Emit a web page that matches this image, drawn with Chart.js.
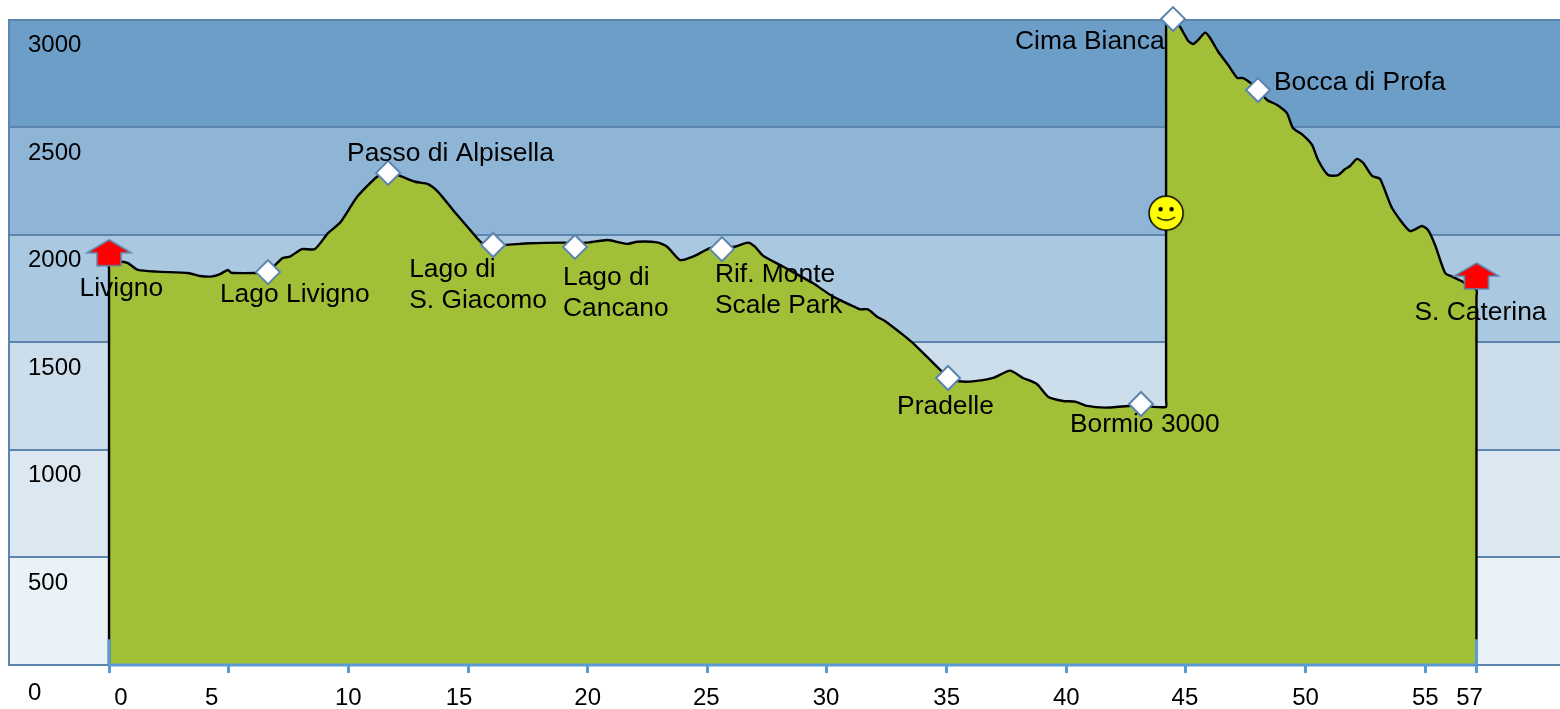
<!DOCTYPE html>
<html>
<head>
<meta charset="utf-8">
<title>Livigno - S. Caterina</title>
<script src="https://cdn.jsdelivr.net/npm/chart.js@4"></script>
<style>
    html, body { margin: 0; padding: 0; background: #fff; }
    canvas { display: block; }
</style>
</head>
<body>
<canvas id="profileChart" width="1560" height="709"></canvas>
<script>
// profile, km and metres
// the extra points on the vertical edges keep the curve from bowing there
const profileKm = [0, 0, 0, 0, 0.54, 0.79, 1.21, 2.0, 3.3, 3.81, 4.31, 4.64, 4.97, 5.1, 6.18, 6.64, 7.02, 7.27, 7.56, 8.06, 8.6, 9.16, 9.66, 10.37, 11.2, 11.66, 12.16, 12.79, 13.33, 13.74, 14.37, 15.09, 15.59, 16.05, 16.55, 17.59, 18.97, 19.47, 19.97, 20.85, 21.65, 22.07, 22.9, 23.32, 23.86, 24.4, 25.11, 25.61, 26.15, 26.7, 26.99, 27.33, 28.04, 29.42, 30.25, 31.25, 31.38, 31.71, 32.09, 32.42, 33.18, 33.68, 34.81, 35.06, 35.44, 35.98, 36.94, 37.65, 38.19, 38.77, 39.24, 39.87, 40.37, 40.87, 41.62, 42.58, 43.12, 43.62, 44.17, 44.17, 44.17, 44.17, 44.46, 44.75, 45.09, 45.3, 45.51, 45.8, 46.01, 46.35, 46.76, 47.14, 47.39, 47.76, 48.01, 48.39, 48.81, 49.22, 49.47, 49.89, 50.27, 50.52, 50.94, 51.36, 51.65, 51.86, 52.15, 52.41, 52.78, 53.11, 53.61, 54.36, 54.86, 55.11, 55.41, 55.83, 56.16, 56.58, 57.14, 57.14, 57.14, 57.14];
const profileElev = [0, 50, 1840, 1873, 1874, 1868, 1836, 1828, 1822, 1808, 1806, 1817, 1836, 1823, 1822, 1826, 1868, 1892, 1898, 1933, 1933, 2008, 2056, 2176, 2269, 2291, 2273, 2246, 2235, 2200, 2115, 2022, 1961, 1952, 1952, 1960, 1963, 1961, 1963, 1975, 1957, 1967, 1964, 1944, 1882, 1898, 1937, 1943, 1944, 1963, 1944, 1902, 1859, 1774, 1712, 1659, 1653, 1653, 1619, 1599, 1534, 1487, 1363, 1334, 1320, 1317, 1334, 1368, 1334, 1306, 1247, 1227, 1224, 1204, 1196, 1204, 1208, 1200, 1200, 1230, 2970, 3000, 3000, 2966, 2901, 2886, 2905, 2939, 2914, 2850, 2789, 2729, 2728, 2700, 2672, 2626, 2603, 2565, 2496, 2463, 2417, 2347, 2277, 2277, 2305, 2319, 2352, 2333, 2273, 2259, 2124, 2017, 2040, 2022, 1952, 1822, 1803, 1780, 1743, 1710, 50, 0];

// waypoints
const waypointKm = [6.64, 11.66, 16.05, 19.47, 25.61, 35.06, 43.12, 44.46, 48.01];
const waypointElev = [1826, 2287, 1952, 1943, 1933, 1334, 1213, 3002, 2672];
const waypointNames = [['Lago Livigno'], ['Passo di Alpisella'], ['Lago di', 'S. Giacomo'], ['Lago di', 'Cancano'], ['Rif. Monte', 'Scale Park'], ['Pradelle'], ['Bormio 3000'], ['Cima Bianca'], ['Bocca di Profa']];

const endpointKm = [0, 57.14];
const endpointElev = [1916, 1808];
const endpointNames = [['Livigno'], ['S. Caterina']];

const smileKm = [44.17];
const smileElev = [2100];

// axes
const xTickValues = [0, 5, 10, 15, 20, 25, 30, 35, 40, 45, 50, 55, 57.14];
const xTickLabels = ['0', '5', '10', '15', '20', '25', '30', '35', '40', '45', '50', '55', '57'];
const yTickValues = [0, 500, 1000, 1500, 2000, 2500, 3000];
const yTickLabels = ['0', '500', '1000', '1500', '2000', '2500', '3000'];
const bandColors = ['#e9f2f6', '#dce8f1', '#ccdeeb', '#aac8df', '#8eb4d6', '#6c9ec8'];
const axisStubElev = [0, 120];

// label nudges in px, the labels in the original sit a bit off the ticks
const xLabelNudge = [12, -17, 0, -9, 0, -1, -1, 0, 0, -1, 0, 0, -7];
const yLabelNudge = [28, 26, 26, 26, 26, 26, 26];
const waypointNudge = [[-48, 23], [-41, -19], [-84, 25], [-12, 31], [-7, 26], [-51, 29], [-71, 21], [-158, 23], [16, -7]];
const endpointNudge = [[-29.5, 36], [-62, 37]];

const toPoints = (xs, ys) => xs.map((x, i) => ({ x: x, y: ys[i] }));

function arrowCanvas() {
    const c = document.createElement('canvas');
    c.width = 50;
    c.height = 30;
    const g = c.getContext('2d');
    g.beginPath();
    g.moveTo(25, 2);
    g.lineTo(47, 15);
    g.lineTo(37, 15);
    g.lineTo(37, 28);
    g.lineTo(13, 28);
    g.lineTo(13, 15);
    g.lineTo(3, 15);
    g.closePath();
    g.fillStyle = '#ff0000';
    g.fill();
    g.strokeStyle = '#5b85ad';
    g.lineWidth = 1.5;
    g.stroke();
    return c;
}

function smileCanvas() {
    const c = document.createElement('canvas');
    c.width = 40;
    c.height = 40;
    const g = c.getContext('2d');
    g.beginPath();
    g.arc(20, 20, 17, 0, Math.PI * 2);
    g.fillStyle = '#ffff00';
    g.fill();
    g.strokeStyle = '#000';
    g.lineWidth = 1.5;
    g.stroke();
    g.fillStyle = '#000';
    [14.5, 25.5].forEach(ex => {
        g.beginPath();
        g.arc(ex, 16, 2.2, 0, Math.PI * 2);
        g.fill();
    });
    g.beginPath();
    g.moveTo(11, 24);
    g.quadraticCurveTo(20, 30, 29, 24);
    g.stroke();
    return c;
}

const bandsPlugin = {
    id: 'bands',
    beforeDraw(chart) {
        const { ctx, chartArea, scales } = chart;
        bandColors.forEach((color, i) => {
            const top = scales.y.getPixelForValue(yTickValues[i + 1]);
            const bottom = scales.y.getPixelForValue(yTickValues[i]);
            ctx.fillStyle = color;
            ctx.fillRect(chartArea.left, top, chartArea.right - chartArea.left, bottom - top);
        });
    }
};

const textPlugin = {
    id: 'texts',
    afterDraw(chart) {
        const { ctx, scales } = chart;
        ctx.save();
        ctx.fillStyle = '#000';
        ctx.textBaseline = 'middle';

        ctx.font = '24px "Liberation Sans"';
        ctx.textAlign = 'center';
        xTickValues.forEach((v, i) => {
            ctx.fillText(xTickLabels[i], scales.x.getPixelForValue(v) + xLabelNudge[i], 698);
        });
        ctx.textAlign = 'left';
        yTickValues.forEach((v, i) => {
            ctx.fillText(yTickLabels[i], 28, scales.y.getPixelForValue(v) + yLabelNudge[i]);
        });

        ctx.font = '26.4px "Liberation Sans"';
        const putNames = (kms, elevs, names, nudge) => {
            names.forEach((lines, i) => {
                const px = scales.x.getPixelForValue(kms[i]) + nudge[i][0];
                const py = scales.y.getPixelForValue(elevs[i]) + nudge[i][1];
                lines.forEach((line, j) => ctx.fillText(line, px, py + j * 31));
            });
        };
        putNames(waypointKm, waypointElev, waypointNames, waypointNudge);
        putNames(endpointKm, endpointElev, endpointNames, endpointNudge);
        ctx.restore();
    }
};

new Chart(document.getElementById('profileChart'), {
    type: 'scatter',
    data: {
        datasets: [
            {
                // markers go first so they end up on top
                label: 'Waypoints',
                data: toPoints(waypointKm, waypointElev),
                pointStyle: 'rectRot',
                pointRadius: 12,
                backgroundColor: '#fff',
                borderColor: '#5b85ad',
                borderWidth: 2,
                clip: false
            },
            {
                label: 'Start and finish',
                data: toPoints(endpointKm, endpointElev),
                pointStyle: arrowCanvas(),
                pointRadius: 10,
                clip: false
            },
            {
                label: 'Smile',
                data: toPoints(smileKm, smileElev),
                pointStyle: smileCanvas(),
                pointRadius: 10,
                clip: false
            },
            {
                label: 'Axis',
                data: toPoints([0, 57.14], [0, 0]),
                showLine: true,
                pointRadius: 0,
                borderColor: '#5b9bd5',
                borderWidth: 3,
                clip: false
            },
            {
                label: 'Axis start',
                data: toPoints([0, 0], axisStubElev),
                showLine: true,
                pointRadius: 0,
                borderColor: '#5b9bd5',
                borderWidth: 3
            },
            {
                label: 'Axis end',
                data: toPoints([57.14, 57.14], axisStubElev),
                showLine: true,
                pointRadius: 0,
                borderColor: '#5b9bd5',
                borderWidth: 3
            },
            {
                label: 'Elevation',
                data: toPoints(profileKm, profileElev),
                showLine: true,
                pointRadius: 0,
                borderColor: '#000',
                borderWidth: 2.4,
                backgroundColor: '#a2c037',
                fill: 'origin',
                tension: 0.2,
                clip: false
            }
        ]
    },
    options: {
        responsive: false,
        animation: false,
        layout: {
            autoPadding: false,
            padding: { left: 9, right: 0, top: 19.5, bottom: 36 }
        },
        scales: {
            x: {
                type: 'linear',
                min: -4.18,
                max: 60.63,
                afterBuildTicks: axis => { axis.ticks = xTickValues.map(v => ({ value: v })); },
                ticks: { display: false },
                border: { display: false },
                grid: {
                    drawOnChartArea: false,
                    drawTicks: true,
                    tickLength: 8,
                    tickWidth: 3,
                    tickColor: '#5b9bd5'
                }
            },
            y: {
                min: 0,
                max: 3000,
                afterBuildTicks: axis => { axis.ticks = yTickValues.map(v => ({ value: v })); },
                ticks: { display: false },
                border: { color: '#5b85ad', width: 2 },
                grid: {
                    color: '#5b85ad',
                    lineWidth: 2,
                    drawTicks: false
                }
            }
        },
        plugins: {
            legend: { display: false },
            title: { display: false },
            tooltip: { enabled: false }
        }
    },
    plugins: [bandsPlugin, textPlugin]
});
</script>
</body>
</html>
